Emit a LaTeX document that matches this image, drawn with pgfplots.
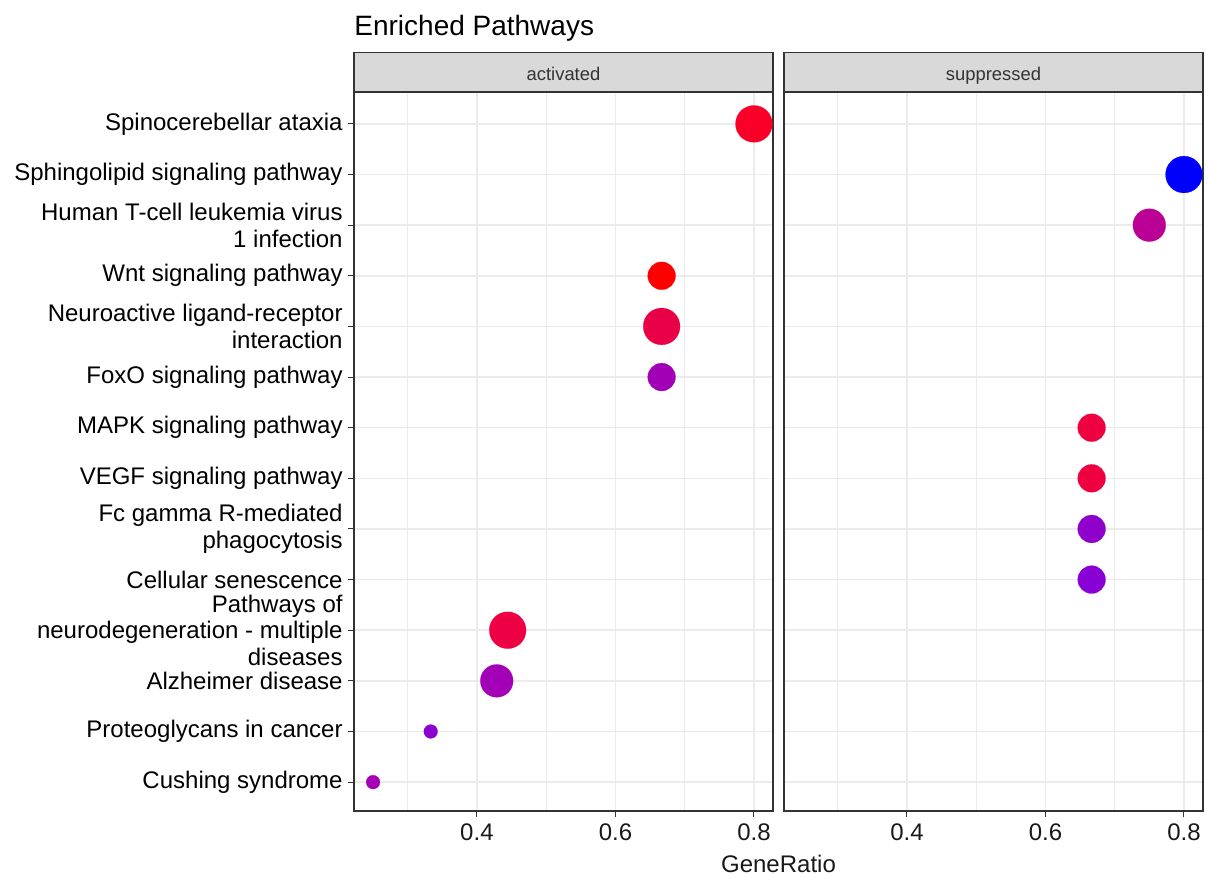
\documentclass[border=0pt]{standalone}
\usepackage{fontspec}
\setmainfont{Liberation Sans}
\usepackage{pgfplots}
\pgfplotsset{compat=1.18}
\usetikzlibrary{calc}
\definecolor{grey20}{HTML}{333333}
\definecolor{grey85}{HTML}{D9D9D9}
\definecolor{grey92}{HTML}{EBEBEB}
\definecolor{cSpino}{HTML}{FA0029}
\definecolor{cWnt}{HTML}{FF0000}
\definecolor{cNeuro}{HTML}{EA0048}
\definecolor{cFoxO}{HTML}{A100B6}
\definecolor{cPathN}{HTML}{EE0045}
\definecolor{cAlz}{HTML}{A300B7}
\definecolor{cProt}{HTML}{8C00D0}
\definecolor{cCush}{HTML}{A500B6}
\definecolor{cSphi}{HTML}{0000FF}
\definecolor{cHTLV}{HTML}{BA0095}
\definecolor{cMAPK}{HTML}{EF0041}
\definecolor{cVEGF}{HTML}{EF0041}
\definecolor{cFc}{HTML}{8F00CB}
\definecolor{cCell}{HTML}{8800D3}
\pgfplotsset{
 panel/.style={
  scale only axis, width=209.5pt, height=359.5pt,
  xmin=0.2225, xmax=0.8275, ymin=0.43, ymax=14.63,
  xtick={0.4,0.6,0.8}, minor xtick={0.3,0.5,0.7},
  ytick={1,...,14},
  grid=both,
  major grid style={draw=grey92, line width=0.75pt},
  minor grid style={draw=grey92, line width=0.45pt},
  axis line style={draw=grey20, line width=0.6pt},
  tick align=outside, major tick length=3pt, minor tick length=0pt,
  tick style={grey20, line width=0.5pt},
  xtick pos=left, ytick pos=left,
  xticklabel style={font=\fontsize{12}{13.3}\selectfont, text=black!90},
  /pgf/number format/assume math mode=true,
  /pgf/number format/fixed, /pgf/number format/precision=1, /pgf/number format/fixed zerofill,
  every axis title shift=0pt,
  title style={at={(0.5,1)}, anchor=south, yshift=0pt, draw=grey20, fill=grey85, line width=0.6pt,
    minimum width=209.5pt, minimum height=19.5pt, inner sep=0pt, text=grey20,
    text height=8.5pt, text depth=0pt,
    font=\fontsize{9.2}{11}\selectfont},
  only marks,
 },
 pt/.style n args={2}{mark=*, mark size=#1, color=#2, mark options={draw=#2, fill=#2, line width=0.1pt}},
}
\begin{document}
\begin{tikzpicture}
\useasboundingbox (-177pt,-33.5pt) rectangle (426pt,405.5pt);
\begin{axis}[panel, name=L, at={(0,0)}, anchor=south west, title={activated},
  yticklabel style={font=\fontsize{12}{13.3}\selectfont, align=right, text=black, inner xsep=2.5pt},
  yticklabels={Cushing syndrome, Proteoglycans in cancer, Alzheimer disease,
   {Pathways of\\neurodegeneration - multiple\\diseases}, Cellular senescence,
   {Fc gamma R-mediated\\phagocytosis}, VEGF signaling pathway, MAPK signaling pathway,
   FoxO signaling pathway, {Neuroactive ligand-receptor\\interaction}, Wnt signaling pathway,
   {Human T-cell leukemia virus\\1 infection}, Sphingolipid signaling pathway, Spinocerebellar ataxia}]
\addplot[pt={9.2pt}{cSpino}] coordinates {(0.8,14)};
\addplot[pt={6.95pt}{cWnt}] coordinates {(0.6667,11)};
\addplot[pt={9.2pt}{cNeuro}] coordinates {(0.6667,10)};
\addplot[pt={6.95pt}{cFoxO}] coordinates {(0.6667,9)};
\addplot[pt={9.2pt}{cPathN}] coordinates {(0.4444,4)};
\addplot[pt={8.2pt}{cAlz}] coordinates {(0.4286,3)};
\addplot[pt={3.45pt}{cProt}] coordinates {(0.3333,2)};
\addplot[pt={3.45pt}{cCush}] coordinates {(0.25,1)};
\end{axis}
\begin{axis}[panel, name=R, at={(215pt,0)}, anchor=south west, title={suppressed},
  yticklabels={}, ytick style={draw=none}]
\addplot[pt={9.2pt}{cSphi}] coordinates {(0.8,13)};
\addplot[pt={8.2pt}{cHTLV}] coordinates {(0.75,12)};
\addplot[pt={6.95pt}{cMAPK}] coordinates {(0.6667,8)};
\addplot[pt={6.95pt}{cVEGF}] coordinates {(0.6667,7)};
\addplot[pt={6.95pt}{cFc}] coordinates {(0.6667,6)};
\addplot[pt={6.95pt}{cCell}] coordinates {(0.6667,5)};
\end{axis}
\node[anchor=base west, inner sep=0pt, font=\fontsize{14}{16}\selectfont] at ($(L.north west)+(0,28pt)$) {Enriched Pathways};
\node[anchor=base, inner sep=0pt, font=\fontsize{12}{13.3}\selectfont, text=black!90] at ($(L.south west)!0.5!(R.south east)+(0,-31pt)$) {GeneRatio};
\end{tikzpicture}
\end{document}
